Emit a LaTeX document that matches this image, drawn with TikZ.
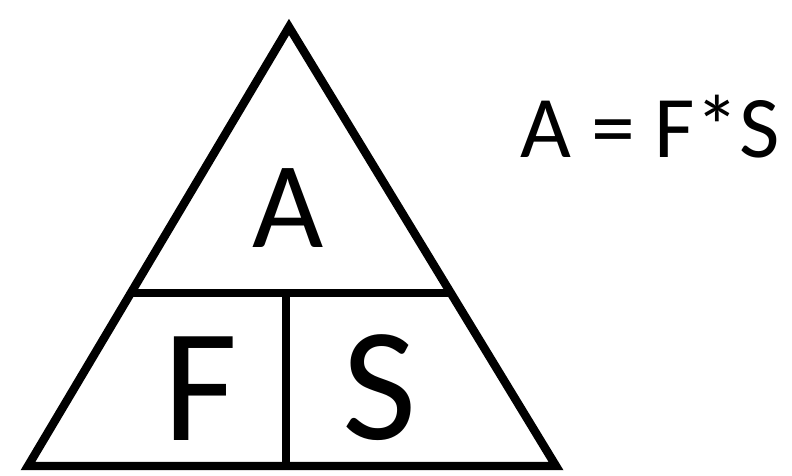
\documentclass[tikz,border=0pt]{standalone}
\usepackage{fontspec}
\setmainfont{Carlito}
\usetikzlibrary{calc,positioning}
\colorlet{edgeA}{black}

\begin{document}
\begin{tikzpicture}[x=0.02cm,y=-0.02cm,
    edge/.style={edgeA, line width=4.8pt, line join=miter, line cap=rect},
    letter/.style={inner sep=0pt, outer sep=0pt}]
      % Page frame (reference proportions)
      \useasboundingbox (0,0) rectangle (792,476);

      % Corners of the triangle
      \coordinate (top) at (289,27);
      \coordinate (bl)  at (28,466);
      \coordinate (br)  at (556,466);

      % Ends of the dividing lines
      \coordinate (ml) at ($(top)!0.606!(bl)$);
      \coordinate (mr) at ($(top)!0.606!(br)$);
      \coordinate (vt) at (286,293);
      \coordinate (vb) at (vt |- bl);

      % Triangle and dividers
      \draw[edge] (top) -- (bl) -- (br) -- cycle;
      \draw[edge, line cap=butt] (ml) -- (mr);
      \draw[edge, line cap=butt] (vt) -- (vb);

      % Letters in the triangle
      \node[letter, font=\fontsize{70}{70}\selectfont] (lA) at (288,208) {A};
      \node[letter, font=\fontsize{92}{92}\selectfont] (lF) at (201,389) {F};
      \node[letter, font=\fontsize{92}{92}\selectfont] (lS) at (380,388) {S};

      % Formula
      \node[letter, font=\fontsize{50}{50}\selectfont] (formula) at (650,127) {A = F*S};
\end{tikzpicture}
\end{document}
